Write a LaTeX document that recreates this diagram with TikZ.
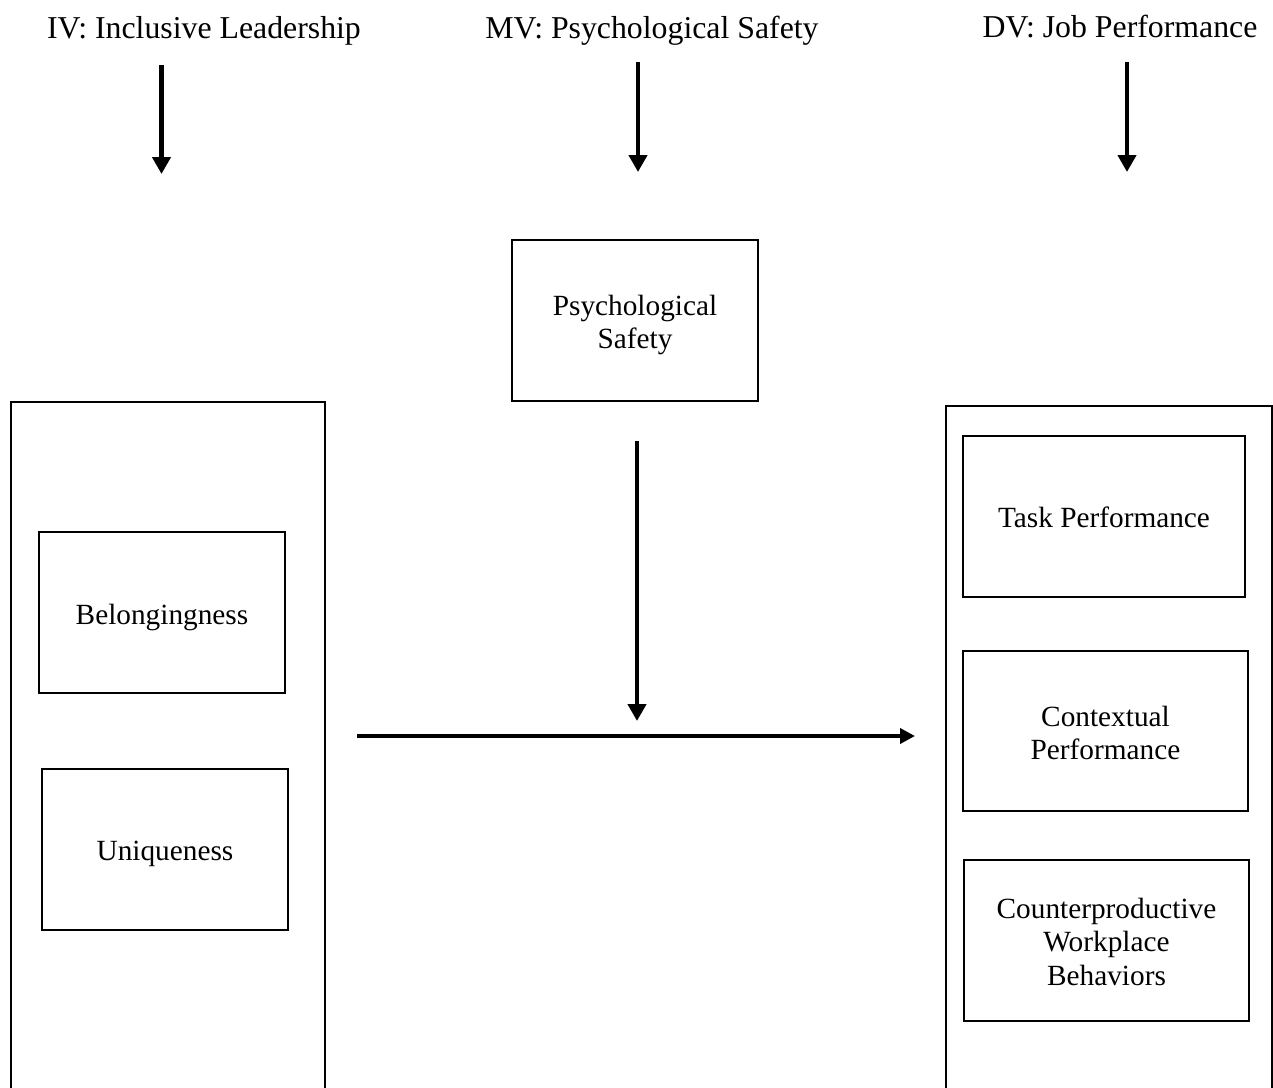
\documentclass[tikz,border=0pt]{standalone}
\usepackage{fontspec}
\setmainfont{Liberation Serif}
\usetikzlibrary{arrows.meta}
\newcommand{\boxtext}[2]{\raisebox{#1}[\height][\depth]{\begin{tabular}{@{}c@{}}#2\end{tabular}}}
\begin{document}
\begin{tikzpicture}[x=1pt,y=-1pt,
  title/.style={font=\fontsize{31.8}{36}\selectfont, inner sep=0pt, anchor=base},
  inbox/.style={draw=black, line width=1.8pt, align=center, inner sep=0pt,
    font=\fontsize{29.3}{33.5}\selectfont},
  outer/.style={draw=black, line width=2.6pt},
  arr/.style={line width=4.6pt, -{Triangle[width=18pt,length=17pt]}},
]
\clip (0,0) rectangle (1273,1087);
\fill[white] (0,0) rectangle (1273,1087);

% titles
\node[title] (iv) at (204,38.5) {IV: Inclusive Leadership};
\node[title] (mv) at (652,38.5) {MV: Psychological Safety};
\node[title] (dv) at (1120,37.5) {DV: Job Performance};

% top arrows
\coordinate (ivs) at (161.5,65);
\coordinate (ive) at (161.5,174);
\coordinate (mvs) at (638,62);
\coordinate (mve) at (638,172);
\coordinate (dvs) at (1127,62);
\coordinate (dve) at (1127,172);
\draw[arr] (ivs) -- (ive);
\draw[arr] (mvs) -- (mve);
\draw[arr] (dvs) -- (dve);

% outer containers (run past the bottom edge)
\draw[outer] (11,1100) -- (11,402) -- (325,402) -- (325,1100);
\draw[outer] (946,1100) -- (946,406) -- (1272,406) -- (1272,1100);

% psychological safety box
\node[inbox, minimum width=246pt, minimum height=161pt] (ps) at (635,320.5) {\boxtext{-5pt}{Psychological\\Safety}};

% IV sub-boxes
\node[inbox, minimum width=246pt, minimum height=161pt] (bel) at (162,612.5) {\boxtext{-5pt}{Belongingness}};
\node[inbox, minimum width=246pt, minimum height=161pt] (uni) at (165,849.5) {\boxtext{-4pt}{Uniqueness}};

% DV sub-boxes
\node[inbox, minimum width=282pt, minimum height=161pt] (task) at (1104,516.5) {\boxtext{-4pt}{Task Performance}};
\node[inbox, minimum width=285pt, minimum height=160pt] (ctx) at (1105.5,731) {\boxtext{-5.5pt}{Contextual\\Performance}};
\node[inbox, minimum width=285pt, minimum height=161pt] (cwb) at (1106.5,940.5) {\boxtext{-4.5pt}{Counterproductive\\Workplace\\Behaviors}};

% moderator and main path arrows
\coordinate (ms) at (637,441);
\coordinate (me) at (637,721);
\draw[arr] (ms) -- (me);
\coordinate (hs) at (357,736);
\coordinate (he) at (915,736);
\draw[arr, line width=3.6pt, -{Triangle[width=15pt,length=15pt]}] (hs) -- (he);
\end{tikzpicture}
\end{document}
